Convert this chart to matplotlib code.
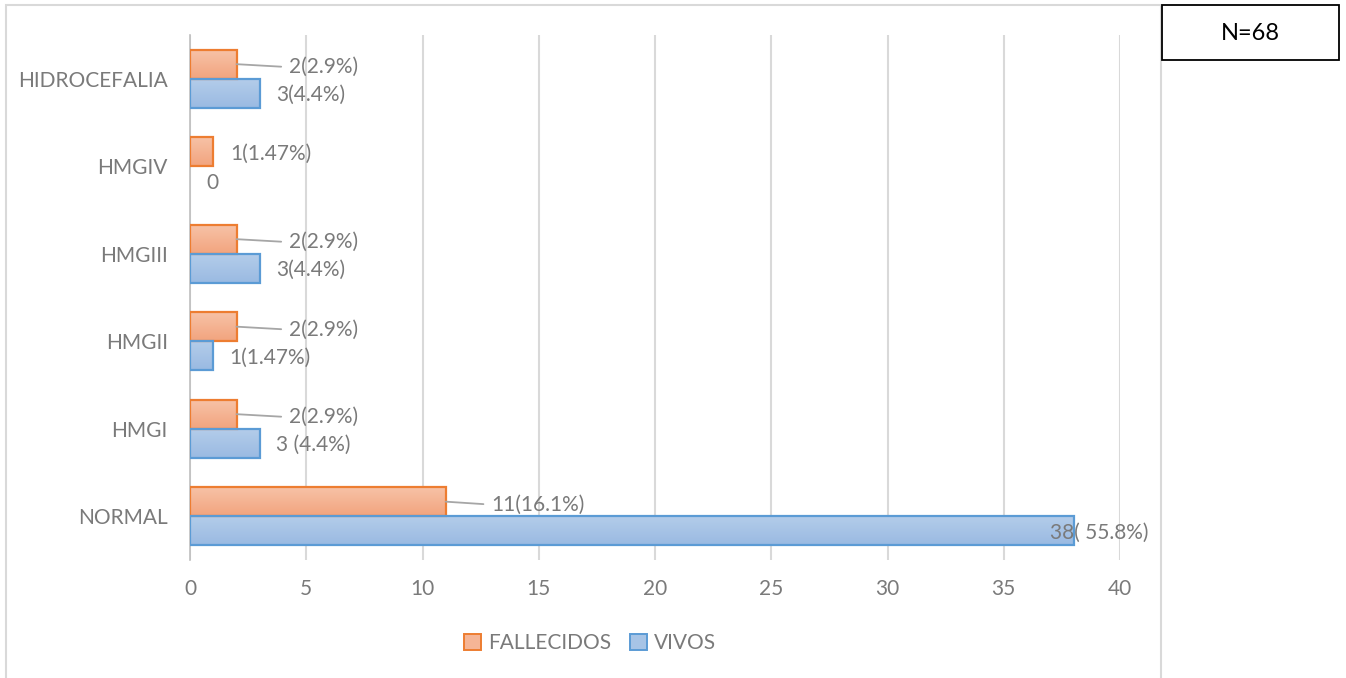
import numpy as np
import matplotlib
matplotlib.use("Agg")
import matplotlib.pyplot as plt
from matplotlib.patches import Rectangle, Patch
from matplotlib.colors import LinearSegmentedColormap

plt.rcParams['font.family'] = ['Lato', 'DejaVu Sans']

categories = ["NORMAL", "HMGI", "HMGII", "HMGIII", "HMGIV", "HIDROCEFALIA"]
fallecidos = [11, 2, 2, 2, 1, 2]
vivos = [38, 3, 1, 3, 0, 3]
fallecidos_labels = ["11(16.1%)", "2(2.9%)", "2(2.9%)", "2(2.9%)", "1(1.47%)", "2(2.9%)"]
vivos_labels = ["38( 55.8%)", "3 (4.4%)", "1(1.47%)", "3(4.4%)", "0", "3(4.4%)"]
x_ticks = [0, 5, 10, 15, 20, 25, 30, 35, 40]
total_label = "N=68"

text_gray = "#7a7a7a"
grid_gray = "#d9d9d9"
orange_edge = "#ed7d31"
blue_edge = "#5b9bd5"
orange_grad = LinearSegmentedColormap.from_list("og", ["#f2a47e", "#f7c3a8"])
blue_grad = LinearSegmentedColormap.from_list("bg", ["#9abae2", "#b4cdea"])

W, H = 1346, 678
fig = plt.figure(figsize=(W / 100, H / 100), dpi=100)

# outer chart frame
fig.patches.append(Rectangle((6 / W, -0.05), (1161 - 6) / W, (H - 5) / H + 0.05,
                             transform=fig.transFigure, fill=False,
                             edgecolor="#d9d9d9", lw=1.5))

ax = fig.add_axes([190 / W, 1 - 560 / H, (1120 - 190) / W, (560 - 35) / H])
ax.set_xlim(0, 40)
ax.set_ylim(-0.5, len(categories) - 0.5)

bh = 1 / 3
ypos = np.arange(len(categories))
grad = np.linspace(0, 1, 64).reshape(-1, 1)


def gradient_bars(vals, offsets, cmap, edge):
    bars = ax.barh(offsets, vals, height=bh, facecolor="none", edgecolor=edge,
                   lw=1.6, zorder=4)
    for b in bars:
        x0, y0 = b.get_x(), b.get_y()
        w, h = b.get_width(), b.get_height()
        if w <= 0:
            b.set_linewidth(0)
            continue
        ax.imshow(grad, extent=(x0, x0 + w, y0, y0 + h), origin="lower",
                  cmap=cmap, aspect="auto", zorder=3, interpolation="bilinear")
    return bars


ob = gradient_bars(fallecidos, ypos + bh / 2, orange_grad, orange_edge)
bb = gradient_bars(vivos, ypos - bh / 2, blue_grad, blue_edge)
ax.set_xlim(0, 40)
ax.set_ylim(-0.5, len(categories) - 0.5)

ax.set_xticks(x_ticks)
ax.set_yticks(ypos)
ax.set_yticklabels(categories)
ax.tick_params(axis="both", length=0, labelsize=15, labelcolor=text_gray)
ax.tick_params(axis="y", pad=16)
ax.tick_params(axis="x", pad=14)
ax.grid(axis="x", color=grid_gray, lw=1.5, zorder=0)
ax.set_axisbelow(True)
for s in ["top", "right", "bottom"]:
    ax.spines[s].set_visible(False)
ax.spines["left"].set_color("#bfbfbf")
ax.spines["left"].set_linewidth(1.2)

# data labels for FALLECIDOS (with leader lines where offset)
for i, (v, lab) in enumerate(zip(fallecidos, fallecidos_labels)):
    yc = i + bh / 2
    if v >= 2:
        dx = 53 if v < 10 else 46
        ax.annotate(lab, xy=(v, yc), xytext=(dx, -3), textcoords="offset pixels",
                    ha="left", va="center", fontsize=15, color=text_gray,
                    arrowprops=dict(arrowstyle="-", color="#a6a6a6", lw=1.3,
                                    shrinkA=4, shrinkB=0,
                                    relpos=(0, 0.5)),
                    zorder=6)
    else:
        ax.annotate(lab, xy=(v, yc), xytext=(17, -2), textcoords="offset pixels",
                    ha="left", va="center", fontsize=15, color=text_gray, zorder=6)

# data labels for VIVOS
for i, (v, lab) in enumerate(zip(vivos, vivos_labels)):
    yc = i - bh / 2
    dx = 16 if v < 30 else -23
    ax.annotate(lab, xy=(v, yc), xytext=(dx, -2), textcoords="offset pixels",
                ha="left", va="center", fontsize=15, color=text_gray, zorder=6)

handles = [Patch(facecolor="#f5b596", edgecolor=orange_edge, lw=1.4, label="FALLECIDOS"),
           Patch(facecolor="#a7c4e6", edgecolor=blue_edge, lw=1.4, label="VIVOS")]
fig.legend(handles=handles, loc="center", bbox_to_anchor=(590 / W, 1 - 643 / H),
           ncol=2, frameon=False, fontsize=15, labelcolor=text_gray,
           handlelength=0.8, handleheight=0.8, handletextpad=0.35,
           columnspacing=0.9)

# sample size box
fig.text(1250 / W, 1 - 33 / H, total_label, ha="center", va="center",
         fontsize=17, color="black")
fig.patches.append(Rectangle((1162 / W, 1 - 60 / H), (1339 - 1162) / W, 55 / H,
                             transform=fig.transFigure, fill=False,
                             edgecolor="black", lw=1.3))

fig.savefig("out.png", dpi=100)
